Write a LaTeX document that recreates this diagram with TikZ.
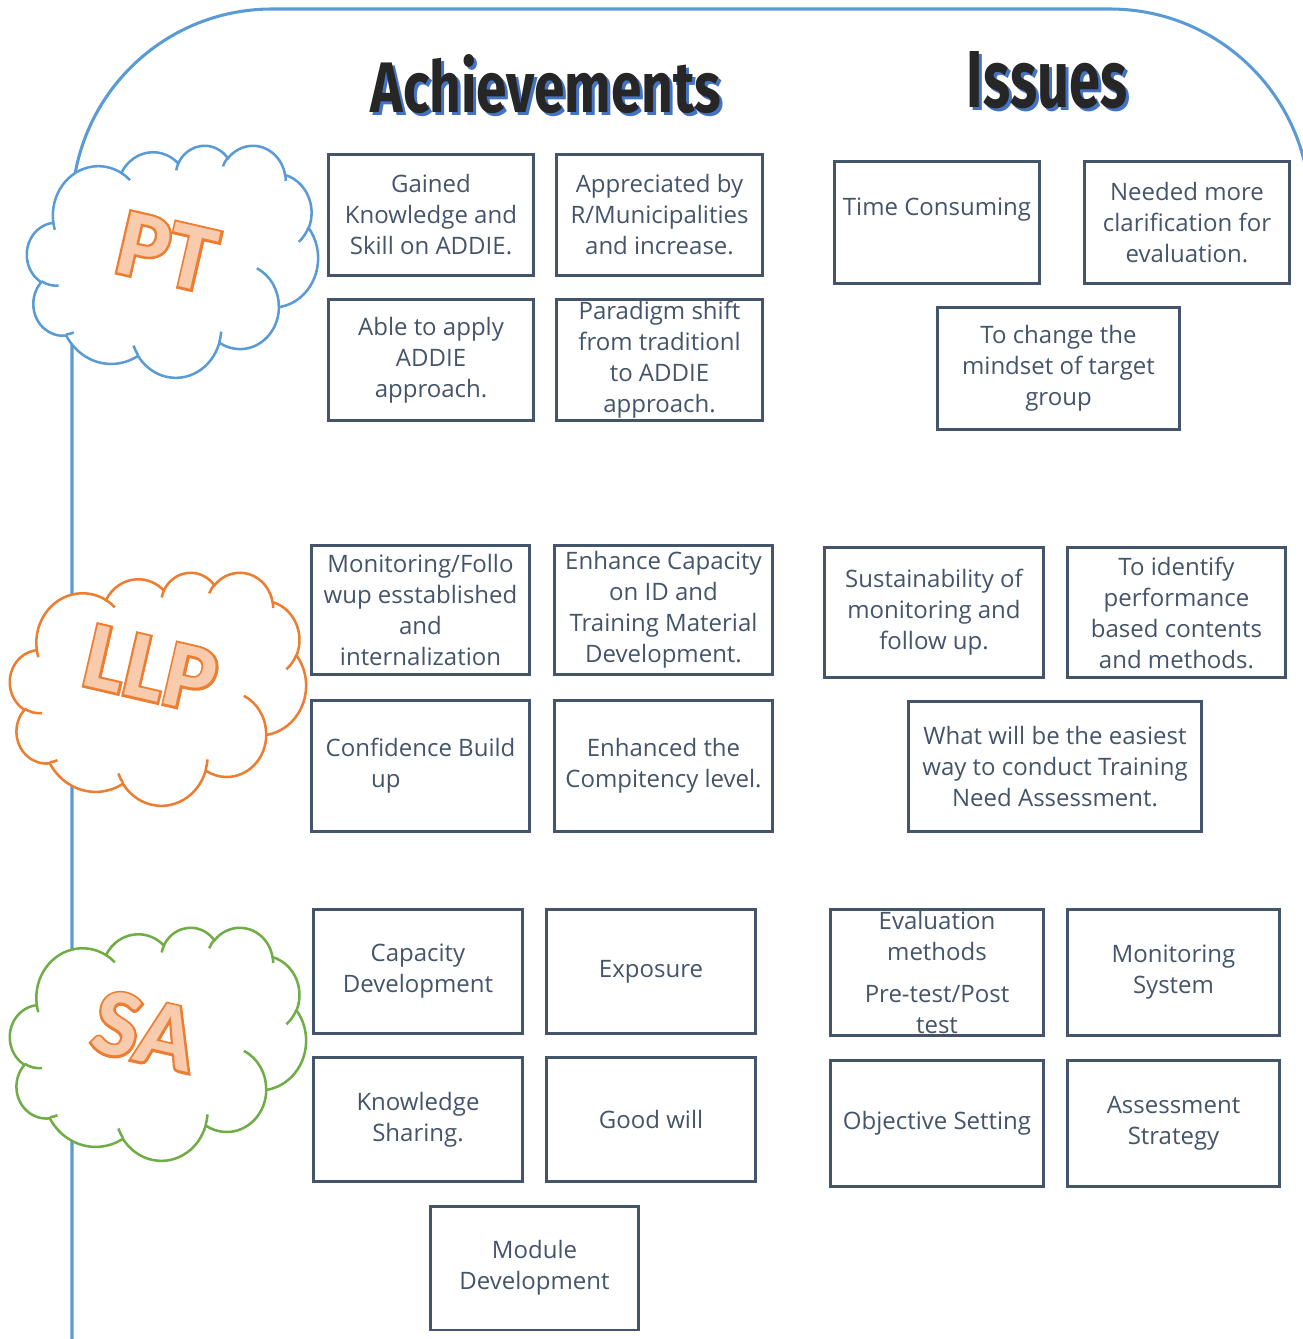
\documentclass[tikz,border=0pt]{standalone}
\usepackage{fontspec}
\setmainfont{Open Sans}
\newfontfamily\cloudfont{Carlito}
\newfontfamily\cloudheavy{Carlito}[BoldFeatures={FakeBold=5}]
\newfontfamily\titlefont{Fira Sans}

\definecolor{frameblue}{HTML}{5B9BD5}
\definecolor{cloudorange}{HTML}{ED7D31}
\definecolor{cloudgreen}{HTML}{70AD47}
\definecolor{letterfill}{HTML}{F8CBAD}
\definecolor{boxc}{HTML}{44546A}
\definecolor{titleink}{HTML}{262626}
\definecolor{titleshadow}{HTML}{4472C4}

% elliptic arc given by radii, visual start angle and sweep
\newcommand\oa[4]{arc[x radius=#1, y radius=#2,
  start angle={atan2((#1)*sin(#3),(#2)*cos(#3))},
  delta angle={mod(atan2((#1)*sin((#3)+(#4)),(#2)*cos((#3)+(#4)))-atan2((#1)*sin(#3),(#2)*cos(#3))+720,360)}]}

% cloud outline in a 432 x 432 frame
\newcommand\cloudouter{(39.00,143.70)
  \oa{67.53}{91.90}{-190.487}{123.781}
  \oa{53.33}{72.67}{-144.102}{89.945}
  \oa{43.65}{59.45}{-145.808}{99.723}
  \oa{48.57}{65.95}{-130.986}{117.242}
  \oa{53.33}{72.73}{-78.709}{109.027}
  \oa{67.75}{92.20}{-46.267}{130.269}
  \oa{57.85}{78.67}{0.625}{114.033}
  \oa{67.52}{92.15}{22.452}{115.173}
  \oa{77.20}{105.43}{66.243}{75.711}
  \oa{43.60}{59.18}{-274.942}{146.736}
  \oa{43.45}{59.45}{-246.829}{152.519} -- cycle}
% short inner strokes of the cloud
\newcommand\cloudinner{
  (46.93,261.77) \oa{43.45}{59.45}{86.742}{26.430}
  (69.28,348.99) \oa{43.60}{59.18}{73.610}{11.447}
  (164.78,390.90) \oa{67.52}{92.15}{137.624}{14.081}
  (288.27,347.51) \oa{67.52}{92.15}{6.453}{15.998}
  (341.29,229.54) \oa{57.85}{78.67}{-70.292}{70.917}
  (417.98,153.54) \oa{53.33}{72.73}{30.318}{27.752}
  (383.24,54.26) \oa{48.57}{65.95}{-13.744}{14.859}
  (290.78,39.52) \oa{48.57}{65.95}{-149.181}{18.195}
  (221.41,47.20) \oa{43.65}{59.45}{-163.494}{17.686}
  (140.00,51.92) \oa{67.53}{91.90}{-66.707}{12.319}
  (41.27,157.89) \oa{67.53}{91.90}{157.654}{11.858}}

\begin{document}
\begin{tikzpicture}[x=0.75pt, y=-0.75pt,
  box/.style={draw=boxc, line width=1.9pt, text=boxc, align=center,
    inner sep=0pt, font=\fontsize{18}{23.25}\selectfont},
  sz/.style 2 args={minimum width={(#1-2.5)*0.75pt}, minimum height={(#2-2.5)*0.75pt}},
  cloudline/.style={line width=1.9pt, fill=white},
  cloudword/.style={inner sep=0pt, rotate=-13},
  wordrim/.style={cloudword, text=cloudorange, font=\cloudheavy\bfseries\fontsize{72}{72}\selectfont},
  wordfill/.style={cloudword, text=letterfill, font=\cloudfont\bfseries\fontsize{72}{72}\selectfont},
  titleword/.style={inner sep=0pt}]
\useasboundingbox (0,0) rectangle (1303,1339);

% frame line
\begin{scope}
  \clip (0,0) rectangle (1303,1339);
  \draw[frameblue, line width=2.3pt] (72,1350) -- (72,209)
    arc[start angle=180, end angle=270, radius=200] -- (1110,9)
    arc[start angle=270, end angle=360, radius=200] -- (1310,1350);
\end{scope}

% headings with a blue drop shadow
\node[titleword, text=titleshadow] (achsh) at (549,87)
  {\resizebox{263pt}{43.5pt}{\titlefont\bfseries Achievements}};
\node[titleword, text=titleink] (ach) at (546,84)
  {\resizebox{263pt}{43.5pt}{\titlefont\bfseries Achievements}};
\node[titleword, text=titleshadow] (isssh) at (1050,83)
  {\resizebox{120pt}{42pt}{\titlefont\bfseries Issues}};
\node[titleword, text=titleink] (iss) at (1047,80)
  {\resizebox{120pt}{42pt}{\titlefont\bfseries Issues}};

% clouds
\begin{scope}[shift={(27,145)}, x=0.50521pt, y=-0.40278pt]
  \draw[cloudline, draw=frameblue] \cloudouter;
  \draw[line width=1.9pt, frameblue] \cloudinner;
\end{scope}
\begin{scope}[shift={(10,572)}, x=0.51389pt, y=-0.40451pt]
  \draw[cloudline, draw=cloudorange] \cloudouter;
  \draw[line width=1.9pt, cloudorange] \cloudinner;
\end{scope}
\begin{scope}[shift={(10,927)}, x=0.51389pt, y=-0.40451pt]
  \draw[cloudline, draw=cloudgreen] \cloudouter;
  \draw[line width=1.9pt, cloudgreen] \cloudinner;
\end{scope}
\node[wordrim] (ptrim) at (167,252) {PT};
\node[wordfill] (pt) at (167,252) {PT};
\node[wordrim] (llprim) at (151,669) {LLP};
\node[wordfill] (llp) at (151,669) {LLP};
\node[wordrim] (sarim) at (145,1031) {SA};
\node[wordfill] (sa) at (145,1031) {SA};

% PT
\node[box, sz={208}{124}] (a1) at (431,215) {Gained\\Knowledge and\\Skill on ADDIE.};
\node[box, sz={209}{124}] (a2) at (659.5,215) {Appreciated by\\R/Municipalities\\and increase.};
\node[box, sz={208}{124}] (a3) at (431,360) {Able to apply\\ADDIE\\approach.};
\node[box, sz={209}{124}] (a4) at (659.5,360) {Paradigm shift\\from traditionl\\to ADDIE\\approach.};
\node[box, sz={208}{125}] (i1) at (937,222.5) {Time Consuming\\\mbox{}};
\node[box, sz={208}{125}] (i2) at (1187,222.5) {Needed more\\clarification for\\evaluation.};
\node[box, sz={245}{125}] (i3) at (1058.5,368.5) {To change the\\mindset of target\\group};

% LLP
\node[box, sz={221}{132}] (b1) at (420.5,610) {Monitoring/Follo\\wup esstablished\\and\\internalization};
\node[box, sz={221}{132}] (b2) at (663.5,610) {Enhance Capacity\\on ID and\\Training Material\\Development.};
\node[box, sz={221}{133}] (b3) at (420.5,766) {Confidence Build\\up\hspace*{52pt}};
\node[box, sz={221}{133}] (b4) at (663.5,766) {Enhanced the\\Compitency level.};
\node[box, sz={222}{133}] (j1) at (934,612.5) {Sustainability of\\monitoring and\\follow up.};
\node[box, sz={221}{133}] (j2) at (1176.5,612.5) {To identify\\performance\\based contents\\and methods.};
\node[box, sz={296}{133}] (j3) at (1055,766.5) {What will be the easiest\\way to conduct Training\\Need Assessment.};

% SA
\node[box, sz={212}{127}] (c1) at (418,971.5) {Capacity\\Development};
\node[box, sz={212}{127}] (c2) at (651,971.5) {Exposure};
\node[box, sz={212}{127}] (c3) at (418,1119.5) {Knowledge\\Sharing.};
\node[box, sz={212}{127}] (c4) at (651,1119.5) {Good will};
\node[box, sz={211}{126}] (c5) at (534.5,1268) {Module\\Development};
\node[box, sz={216}{129}] (k1) at (937,972.5) {Evaluation\\methods\\[8pt]Pre-test/Post\\test};
\node[box, sz={215}{129}] (k2) at (1173.5,972.5) {Monitoring\\System};
\node[box, sz={216}{129}] (k3) at (937,1123.5) {Objective Setting};
\node[box, sz={215}{129}] (k4) at (1173.5,1123.5) {Assessment\\Strategy};
\end{tikzpicture}
\end{document}
